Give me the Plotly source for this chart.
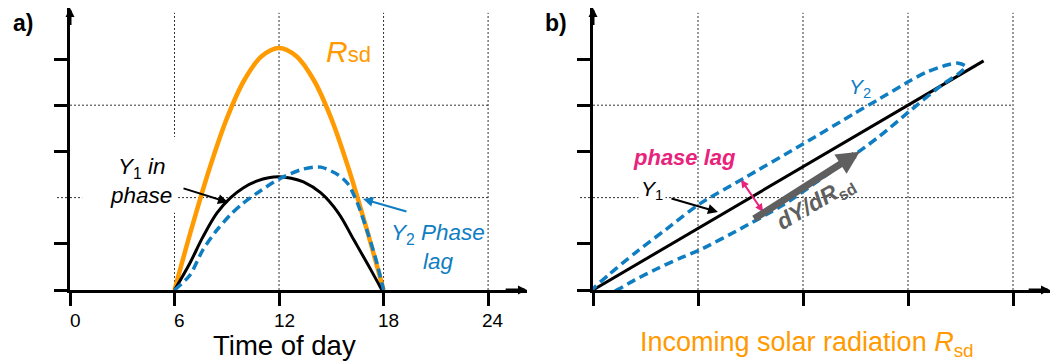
import plotly.graph_objects as go

# ---------------- data ----------------
# panel a) daily course
hours_rsd = [6, 7, 8, 9, 10, 11, 12, 13, 14, 15, 16, 17, 18]
rsd = [0, 1.36, 2.62, 3.71, 4.54, 5.06, 5.24, 5.06, 4.54, 3.71, 2.62, 1.36, 0]

hours_y1 = [6, 6.88, 7.63, 8.44, 9.19, 9.94, 10.75, 11.4, 12.0, 12.7, 13.4, 14.4, 15.4, 16.3, 17.28, 17.9]
y1 = [0, 0.58, 1.15, 1.67, 1.99, 2.21, 2.36, 2.43, 2.45, 2.42, 2.34, 2.10, 1.67, 1.08, 0.43, 0]

hours_y2 = [6, 6.88, 7.63, 8.44, 9.19, 9.94, 10.75, 12.0, 13.4, 14.4, 15.4, 15.95, 16.5, 17.1, 17.57, 18.0]
y2 = [0, 0.32, 0.87, 1.30, 1.62, 1.88, 2.10, 2.40, 2.62, 2.66, 2.49, 2.30, 1.88, 1.23, 0.65, 0]

hour_ticks = [0, 6, 12, 18, 24]
hour_labels = ["0", "6", "12", "18", "24"]

# panel b) response vs. incoming radiation
rsd_y1 = [0, 3.72]
y1_vs_rsd = [0, 4.96]

rsd_loop = [0, 0.08, 0.2, 0.4, 0.6, 0.83, 1.02, 1.4, 1.81, 2.2, 2.73, 3.02, 3.33, 3.48, 3.55,
            3.48, 3.37, 3.18, 3.02, 2.73, 2.48, 2.0, 1.43, 1.02, 0.7, 0.4, 0.15, 0]
y2_loop = [0, -0.08, -0.03, 0.22, 0.45, 0.69, 0.87, 1.32, 1.84, 2.45, 3.33, 3.88, 4.45, 4.68, 4.84,
           4.91, 4.87, 4.72, 4.53, 4.14, 3.81, 3.16, 2.41, 1.87, 1.32, 0.80, 0.33, 0]

rsd_ticks = [0, 1, 2, 3, 4]
y_ticks = [0, 1, 3, 4, 5]
y_grid = [2, 4]
hour_grid = [6, 12, 18, 24]
rsd_grid = [1, 2, 3, 4]

# ---------------- style ----------------
ORANGE = "#FF9A00"
BLUE = "#0F7DC2"
PINK = "#E8237B"
GREY = "#5F5F5F"
FONT = "Liberation Sans, Arial, Helvetica, sans-serif"

W, H = 1051, 361
XA_DOM = [70 / W, 527 / W]
XB_DOM = [593 / W, 1050 / W]
Y_DOM = [(H - 290) / H, (H - 8) / H]
XA_RANGE = [0, 457 / 17.42]
XB_RANGE = [0, 457 / 105.0]
Y_RANGE = [0, 282 / 46.2]

fig = go.Figure()

# panel a curves
fig.add_trace(go.Scatter(x=hours_rsd, y=rsd, mode="lines", line=dict(color=ORANGE, width=4.5, shape="spline"),
                         xaxis="x", yaxis="y", hoverinfo="skip"))
fig.add_trace(go.Scatter(x=hours_y1, y=y1, mode="lines", line=dict(color="black", width=3, shape="spline"),
                         xaxis="x", yaxis="y", hoverinfo="skip"))
fig.add_trace(go.Scatter(x=hours_y2, y=y2, mode="lines",
                         line=dict(color=BLUE, width=3.5, dash="9px,5px", shape="spline", smoothing=0.8),
                         xaxis="x", yaxis="y", hoverinfo="skip"))

# panel b curves
fig.add_trace(go.Scatter(x=rsd_y1, y=y1_vs_rsd, mode="lines", line=dict(color="black", width=3),
                         xaxis="x2", yaxis="y2", hoverinfo="skip"))
fig.add_trace(go.Scatter(x=rsd_loop, y=y2_loop, mode="lines",
                         line=dict(color=BLUE, width=3.5, dash="9px,5px", shape="spline", smoothing=0.7),
                         xaxis="x2", yaxis="y2", hoverinfo="skip", cliponaxis=False))

# dotted reference grid
grid_line = dict(color="#333333", width=1, dash="2px,2px")
shapes = []
for xr, yr, xgrid, xmax in (("x", "y", hour_grid, 24), ("x2", "y2", rsd_grid, 4)):
    for gx in xgrid:
        shapes.append(dict(type="line", xref=xr, yref=yr, x0=gx, x1=gx, y0=0, y1=6, line=grid_line, layer="below"))
    for gy in y_grid:
        shapes.append(dict(type="line", xref=xr, yref=yr, x0=0, x1=xmax, y0=gy, y1=gy, line=grid_line, layer="below"))
# dotted stub replacing the tick at y = 2
for dom, yr in ((XA_DOM, "y"), (XB_DOM, "y2")):
    shapes.append(dict(type="line", xref="paper", yref=yr, x0=dom[0] - 13 / W, x1=dom[0], y0=2, y1=2,
                       line=grid_line, layer="below"))
# white backing behind the "Y1 in phase" label
shapes.append(dict(type="rect", xref="x", yref="y", x0=0.7, x1=6.15, y0=1.67, y1=3.31,
                   fillcolor="white", line=dict(width=0), layer="below"))

axis_common = dict(showgrid=False, zeroline=False, showline=True, linecolor="black", linewidth=3,
                   ticks="outside", ticklen=13, tickwidth=3, tickcolor="black", fixedrange=True)

fig.update_layout(
    width=W, height=H, margin=dict(l=0, r=0, t=0, b=0),
    paper_bgcolor="white", plot_bgcolor="rgba(0,0,0,0)",
    showlegend=False, font=dict(family=FONT, color="black"),
    shapes=shapes,
    xaxis=dict(domain=XA_DOM, range=XA_RANGE, anchor="y", tickvals=hour_ticks, showticklabels=False,
               **axis_common),
    yaxis=dict(domain=Y_DOM, range=Y_RANGE, anchor="x", tickvals=y_ticks, showticklabels=False, **axis_common),
    xaxis2=dict(domain=XB_DOM, range=XB_RANGE, anchor="y2", tickvals=rsd_ticks, showticklabels=False,
                **axis_common),
    yaxis2=dict(domain=Y_DOM, range=Y_RANGE, anchor="x2", tickvals=y_ticks, showticklabels=False, **axis_common),
)

ann = []


def text(xr, yr, x, y, txt, size, color, **kw):
    ann.append(dict(xref=xr, yref=yr, x=x, y=y, text=txt, showarrow=False, xanchor="center", yanchor="middle",
                    font=dict(size=size, color=color, family=FONT), **kw))


def arrow(xr, yr, tail, head, color, width, size, head_style=2, both=False):
    d = dict(xref=xr, yref=yr, axref=xr, ayref=yr, x=head[0], y=head[1], ax=tail[0], ay=tail[1],
             text="", showarrow=True, arrowhead=head_style, arrowsize=size, arrowwidth=width,
             arrowcolor=color)
    if both:
        d.update(arrowside="end+start", startarrowhead=head_style, startarrowsize=size)
    ann.append(d)


# axis arrow heads
for xr, yr, xrng in (("x", "y", XA_RANGE), ("x2", "y2", XB_RANGE)):
    arrow(xr, yr, (xrng[1] - 0.05 * xrng[1], 0), (xrng[1], 0), "black", 3, 0.6)
    arrow(xr, yr, (0, Y_RANGE[1] - 0.4), (0, Y_RANGE[1]), "black", 3, 0.6)

# hour tick labels below the time axis
for hv, lab in zip(hour_ticks, hour_labels):
    text("x", "paper", hv, (H - 320) / H, lab, 19, "black", xshift=5)

# panel labels
text("paper", "paper", 23 / W, 1 - 23 / H, "<b>a)</b>", 23, "black")
text("paper", "paper", 556 / W, 1 - 23 / H, "<b>b)</b>", 23, "black")

# panel a texts
text("x", "y", 15.96, 5.17, "<i>R</i><span style='font-size:22px'>sd</span>", 30, ORANGE)
text("x", "y", 4.1, 2.36, "<i>Y</i><sub>1</sub><i> in</i><br><i>phase</i>", 22.5, "black")
arrow("x", "y", (6.43, 2.21), (9.07, 1.90), "black", 2, 1.0)
text("x", "y", 21.13, 0.93, "<i>Y</i><sub>2</sub><i> Phase</i><br><i>lag</i>", 22.5, BLUE)
arrow("x", "y", (19.4, 1.69), (16.82, 1.97), BLUE, 2, 1.0)
text("x", "paper", 12.34, (H - 345) / H, "Time of day", 27.5, "black")

# panel b texts
text("x2", "y2", 2.54, 4.37, "<i>Y</i><sub>2</sub>", 21, BLUE)
text("x2", "y2", 0.876, 2.86, "<b><i>phase lag</i></b>", 22, PINK)
text("x2", "y2", 0.56, 2.16, "<i>Y</i><sub>1</sub>", 21, "black", bgcolor="white", borderpad=2)
arrow("x2", "y2", (0.733, 1.99), (1.19, 1.69), "black", 2, 1.0)
arrow("x2", "y2", (1.40, 2.42), (1.62, 1.69), PINK, 2, 0.8, both=True)
arrow("x2", "y2", (1.52, 1.52), (2.54, 2.99), GREY, 7, 0.65)
text("x2", "y2", 2.12, 1.88, "<b><i>dY/dR</i></b><sub><b>sd</b></sub>", 23, GREY, textangle=-30)
text("x2", "paper", 2.04, (H - 344) / H, "Incoming solar radiation <i>R</i><sub>sd</sub>", 27, ORANGE)

fig.update_layout(annotations=ann)
fig.write_html("out.html")
